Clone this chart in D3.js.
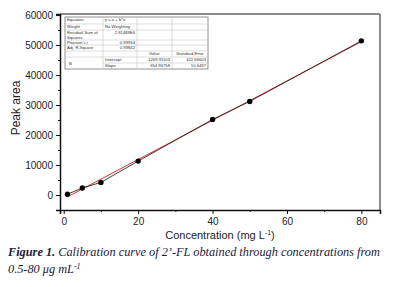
<!DOCTYPE html>
<html>
<head>
<meta charset="utf-8">
<script src="https://cdn.jsdelivr.net/npm/d3@7"></script>
<style>
  body { margin: 0; background: #fff; }
  svg { display: block; }
</style>
</head>
<body>
<script>
// calibration points
var conc = [1, 5, 10, 20, 40, 50, 80];
var area = [250, 2350, 4200, 11300, 25200, 31200, 51400];
var intercept = -1269.91103, slope = 654.96758;
var xTicks = [0, 20, 40, 60, 80];
var yTicks = [0, 10000, 20000, 30000, 40000, 50000, 60000];
var tableRows = [
  ["Equation", "y = a + b*x", "", ""],
  ["Weight", "No Weighting", "", ""],
  ["Residual Sum of Squares", "2.81483E6", "", ""],
  ["Pearson's r", "0.99934", "", ""],
  ["Adj. R-Square", "0.99842", "", ""]
];
var tableHead = ["", "", "Value", "Standard Error"];
var tableB = [["Intercept", "-1269.91103", "422.66603"], ["Slope", "654.96758", "10.6497"]];

var width = 393, height = 287;
var svg = d3.select('body').append('svg').attr('width', width).attr('height', height);

var pLeft = 60, pRight = 380, pTop = 14, pBottom = 210;
var x = d3.scaleLinear().domain([-1, 85]).range([pLeft, pRight]);
var y = d3.scaleLinear().domain([-5000, 60350]).range([pBottom, pTop]);

// frame
svg.append('line').attr('x1', pLeft).attr('x2', pRight).attr('y1', pTop).attr('y2', pTop).attr('stroke', '#666').attr('stroke-width', 1.5);
svg.append('line').attr('x1', pRight).attr('x2', pRight).attr('y1', pTop).attr('y2', pBottom).attr('stroke', '#666').attr('stroke-width', 1.5);

// axes
var yAxis = d3.axisLeft(y).tickValues(yTicks).tickSize(4).tickFormat(d3.format('d'));
var xAxis = d3.axisBottom(x).tickValues(xTicks).tickSize(4);
var gy = svg.append('g').attr('transform', 'translate(' + pLeft + ',0)').call(yAxis);
var gx = svg.append('g').attr('transform', 'translate(0,' + pBottom + ')').call(xAxis);
// minor ticks
svg.append('g').attr('transform', 'translate(' + pLeft + ',0)')
  .call(d3.axisLeft(y).tickValues(d3.range(-5000, 60001, 10000)).tickSize(2).tickFormat(''))
  .select('.domain').remove();
svg.append('g').attr('transform', 'translate(0,' + pBottom + ')')
  .call(d3.axisBottom(x).tickValues([10, 30, 50, 70]).tickSize(2).tickFormat(''))
  .select('.domain').remove();
svg.selectAll('.domain').attr('stroke', '#111').attr('stroke-width', 1.5);
svg.selectAll('.tick line').attr('stroke', '#111').attr('stroke-width', 1);
svg.selectAll('.tick text').attr('font-family', 'Arial, Liberation Sans, sans-serif').attr('font-size', 10).attr('fill', '#222');
gy.selectAll('.tick text').attr('x', -7);
gx.selectAll('.tick text').attr('y', 8);

// fit line
svg.append('line')
  .attr('x1', x(1)).attr('y1', y(intercept + slope * 1))
  .attr('x2', x(80)).attr('y2', y(intercept + slope * 80))
  .attr('stroke', '#e03030').attr('stroke-width', 1);

// data line + points
var pts = conc.map(function(c, i) { return [c, area[i]]; });
svg.append('path').datum(pts)
  .attr('d', d3.line().x(function(d) { return x(d[0]); }).y(function(d) { return y(d[1]); }))
  .attr('fill', 'none').attr('stroke', '#111').attr('stroke-width', 0.8);
svg.selectAll('circle.pt').data(pts).enter().append('circle')
  .attr('cx', function(d) { return x(d[0]); })
  .attr('cy', function(d) { return y(d[1]); })
  .attr('r', 2.7).attr('fill', '#000');

// inset table
var tx = [65, 103, 137, 172, 208];
var ty = [17, 24, 30, 40, 45, 51, 57, 63, 69];
var tbl = svg.append('g').attr('font-family', 'Arial, Liberation Sans, sans-serif').attr('font-size', 4.2).attr('fill', '#333');
tbl.append('rect').attr('x', tx[0]).attr('y', ty[0]).attr('width', tx[4] - tx[0]).attr('height', ty[8] - ty[0])
  .attr('fill', '#fff').attr('stroke', '#777').attr('stroke-width', 0.8);
ty.slice(1, 8).forEach(function(v, i) {
  tbl.append('line').attr('x1', i === 6 ? tx[1] : tx[0]).attr('x2', tx[4]).attr('y1', v).attr('y2', v).attr('stroke', '#bbb').attr('stroke-width', 0.5);
});
tx.slice(1, 4).forEach(function(v) {
  tbl.append('line').attr('x1', v).attr('x2', v).attr('y1', ty[0]).attr('y2', ty[8]).attr('stroke', '#bbb').attr('stroke-width', 0.5);
});
tableRows.forEach(function(r, i) {
  if (r[0] === "Residual Sum of Squares") {
    tbl.append('text').attr('x', tx[0] + 2).attr('y', ty[i] + 4.3).text('Residual Sum of');
    tbl.append('text').attr('x', tx[0] + 2).attr('y', ty[i] + 8.6).text('Squares');
  } else {
    tbl.append('text').attr('x', tx[0] + 2).attr('y', ty[i] + 4.3).text(r[0]);
  }
  if (i < 2) tbl.append('text').attr('x', tx[1] + 2).attr('y', ty[i] + 4.3).text(r[1]);
  else tbl.append('text').attr('x', tx[2] - 2).attr('y', ty[i] + 4.3).attr('text-anchor', 'end').text(r[1]);
});
tbl.append('text').attr('x', (tx[2] + tx[3]) / 2).attr('y', ty[5] + 4.3).attr('text-anchor', 'middle').text(tableHead[2]);
tbl.append('text').attr('x', (tx[3] + tx[4]) / 2).attr('y', ty[5] + 4.3).attr('text-anchor', 'middle').text(tableHead[3]);
tbl.append('text').attr('x', tx[0] + 4).attr('y', ty[7] + 1.5).text('B');
tableB.forEach(function(r, i) {
  tbl.append('text').attr('x', tx[1] + 2).attr('y', ty[6 + i] + 4.3).text(r[0]);
  tbl.append('text').attr('x', tx[3] - 2).attr('y', ty[6 + i] + 4.3).attr('text-anchor', 'end').text(r[1]);
  tbl.append('text').attr('x', tx[4] - 2).attr('y', ty[6 + i] + 4.3).attr('text-anchor', 'end').text(r[2]);
});

// axis titles
svg.append('text').attr('transform', 'translate(20,108) rotate(-90)').attr('text-anchor', 'middle')
  .attr('font-family', 'Arial, Liberation Sans, sans-serif').attr('font-size', 12).attr('fill', '#222').text('Peak area');
var xt = svg.append('text').attr('x', 220).attr('y', 239).attr('text-anchor', 'middle')
  .attr('font-family', 'Arial, Liberation Sans, sans-serif').attr('font-size', 11).attr('fill', '#222');
xt.append('tspan').text('Concentration (mg L');
xt.append('tspan').attr('dy', -4).attr('font-size', 7).text('-1');
xt.append('tspan').attr('dy', 4).text(')');

// caption
var cap = svg.append('g').attr('font-family', 'Liberation Serif, Times New Roman, serif').attr('font-style', 'italic').attr('fill', '#1a1a40');
var c1 = cap.append('text').attr('x', 8).attr('y', 256).attr('font-size', 12.3);
c1.append('tspan').attr('font-weight', 'bold').text('Figure 1.');
c1.append('tspan').text(' Calibration curve of 2\u2019-FL obtained through concentrations from');
var c2 = cap.append('text').attr('x', 8).attr('y', 273).attr('font-size', 12.3);
c2.append('tspan').text('0.5-80 \u03bcg mL');
c2.append('tspan').attr('dy', -4).attr('font-size', 8).text('-1');
</script>
</body>
</html>
